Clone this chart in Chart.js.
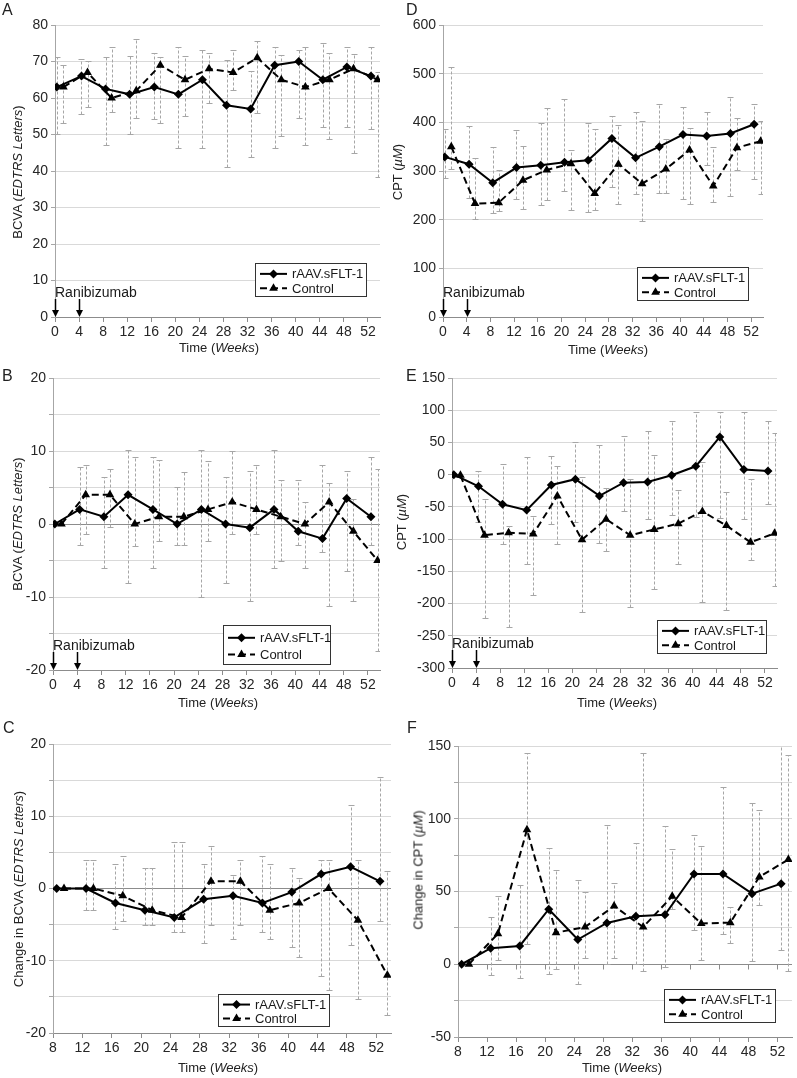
<!DOCTYPE html>
<html>
<head>
<meta charset="utf-8">
<script src="https://cdn.jsdelivr.net/npm/chart.js@4.4.0/dist/chart.umd.min.js"></script>
<style>
    body { margin: 0; background: #fff; }
    #page { position: relative; width: 797px; height: 1078px; font-family: "Liberation Sans", Arial, sans-serif; color: #222; overflow: hidden; }
    canvas { position: absolute; }
    .panel-label { position: absolute; font-size: 16px; }
    .x-title { position: absolute; font-size: 13px; white-space: nowrap; transform: translate(-50%, -50%); }
    .y-title { position: absolute; font-size: 13px; white-space: nowrap; transform: translate(-50%, -50%) rotate(-90deg); }
</style>
</head>
<body>
<div id="page">
    <div class="panel-label" style="left:2px;top:1px">A</div>
    <div class="panel-label" style="left:406px;top:1px">D</div>
    <div class="panel-label" style="left:2px;top:367px">B</div>
    <div class="panel-label" style="left:406px;top:367px">E</div>
    <div class="panel-label" style="left:3px;top:719px">C</div>
    <div class="panel-label" style="left:407px;top:719px">F</div>

    <div class="x-title" style="left:219px;top:347px">Time (<i>Weeks</i>)</div>
    <div class="x-title" style="left:608px;top:349px">Time (<i>Weeks</i>)</div>
    <div class="x-title" style="left:218px;top:702px">Time (<i>Weeks</i>)</div>
    <div class="x-title" style="left:617px;top:702px">Time (<i>Weeks</i>)</div>
    <div class="x-title" style="left:218px;top:1067px">Time (<i>Weeks</i>)</div>
    <div class="x-title" style="left:622px;top:1067px">Time (<i>Weeks</i>)</div>

    <div class="y-title" style="left:17px;top:172px">BCVA (<i>EDTRS Letters</i>)</div>
    <div class="y-title" style="left:397px;top:172px">CPT (<i>µM</i>)</div>
    <div class="y-title" style="left:17px;top:524px">BCVA (<i>EDTRS Letters</i>)</div>
    <div class="y-title" style="left:401px;top:522px">CPT (<i>µM</i>)</div>
    <div class="y-title" style="left:18px;top:889px">Change in BCVA (<i>EDTRS Letters</i>)</div>
    <div class="y-title" style="left:418px;top:870px">Change in CPT (<i>µM</i>)</div>
</div>
<script>
// visit times (weeks) as plotted; control is drawn one week to the right
const weeksT = [0.3, 4.4, 8.4, 12.4, 16.5, 20.5, 24.5, 28.5, 32.5, 36.5, 40.5, 44.5, 48.5, 52.5];
const weeksC = [1.4, 5.4, 9.4, 13.5, 17.5, 21.6, 25.6, 29.6, 33.6, 37.6, 41.6, 45.6, 49.6, 53.6];
const changeWeeksT = [8.5, 12.5, 16.5, 20.5, 24.5, 28.5, 32.5, 36.5, 40.5, 44.5, 48.5, 52.5];
const changeWeeksC = [9.5, 13.5, 17.5, 21.5, 25.5, 29.5, 33.5, 37.5, 41.5, 45.5, 49.5, 53.5];
const weekTicks = [0, 4, 8, 12, 16, 20, 24, 28, 32, 36, 40, 44, 48, 52];
const changeWeekTicks = [8, 12, 16, 20, 24, 28, 32, 36, 40, 44, 48, 52];
const injectionWeeks = [0, 4];
const seriesNames = ['rAAV.sFLT-1', 'Control'];

// A: BCVA
const aT = [63, 66, 62.5, 61, 63, 61, 65, 58, 57, 69, 70, 65, 68.5, 66];
const aTlo = [50.2, 55.7, 47.2, 50.2, 54.3, 46.3, 46.3, 41.1, 43.9, 46.3, 54.6, 52.1, 52.1, 51.4];
const aThi = [71.1, 70.6, 71.1, 71.6, 72.2, 74, 73.2, 70.5, 67.4, 74.1, 73.2, 75.2, 73.9, 74.1];
const aC = [63, 67, 60, 62, 69, 65, 68, 67, 71, 65, 63, 65, 68, 65];
const aClo = [53.2, 57.6, 56.2, 54.4, 53.2, 55, 58.7, 62.2, 55.8, 49.7, 47.2, 48.8, 44.8, 38.3];
const aChi = [69.1, 70.2, 74, 76.1, 71.1, 71.6, 72.2, 73.2, 75.7, 71.7, 74.1, 72.3, 72, 67];

// B: BCVA change from baseline
const bT = [0, 2, 1, 4, 2, 0, 2, 0, -0.5, 2, -1, -2, 3.5, 1];
const bTlo = [0, -2.9, -6, -8.1, -6, -2.9, -10, -8.1, -10.6, -6, -2.9, -3.9, -6.5, -2.9];
const bThi = [0, 7.8, 6.4, 10.2, 9.2, 5.1, 10.2, 6.4, 7.3, 10.2, 6, 8.1, 7.3, 9.2];
const bC = [0, 4, 4, 0, 1, 1, 2, 3, 2, 1, 0, 3, -1, -5];
const bClo = [0, -1.4, -0.4, -3, -2.3, -2.9, -2.3, -1.4, -1.4, -5, -6, -11.3, -10.6, -17.4];
const bChi = [0, 8.1, 7.6, 9.2, 8.8, 7.1, 8.6, 10, 8.1, 6, 3, 5.6, 3.4, 7.5];

// C: change in BCVA from week 8
const cT = [0, 0, -2, -3, -4, -1.5, -1, -2, -0.5, 2, 3, 1];
const cTlo = [0, -3, -5.6, -5, -6, -7.5, -7, -6, -8.1, -12.1, -7.8, -4.5];
const cThi = [0, 3.9, 3.4, 2.9, 6.4, 3.4, 1.9, 4.5, 2.9, 3.9, 11.5, 15.4];
const cC = [0, 0, -1, -3, -4, 1, 1, -3, -2, 0, -4.4, -12];
const cClo = [0, -3, -4.5, -5, -6, -5, -5, -7, -9.5, -14, -15.3, -17.5];
const cChi = [0, 3.9, 4.5, 2.9, 6.4, 5.9, 3.9, 3.4, 1.4, 4, 3.9, 2.4];

// D: CPT
const dT = [329, 314, 276, 307, 312, 318, 322, 367, 327, 350, 375, 372, 377, 396];
const dTlo = [285, 245, 213, 243, 230, 259, 215, 267, 252, 255, 242, 312, 248, 283];
const dThi = [387, 393, 350, 384, 398, 447, 399, 413, 422, 437, 431, 422, 453, 437];
const dC = [350, 233, 235, 281, 302, 315, 254, 314, 274, 304, 343, 269, 348, 361];
const dClo = [305, 201, 217, 221, 241, 219, 219, 233, 197, 255, 233, 237, 302, 252];
const dChi = [514, 326, 303, 352, 429, 344, 386, 395, 402, 365, 389, 350, 409, 403];

// E: CPT change from baseline
const eT = [0, -18, -46, -55, -16, -7, -33, -12.5, -11.5, -1, 13, 58.6, 8, 5.5];
const eTlo = [0, -73, -107, -138, -77, -73, -106, -57, -69, -63, -65, -67, -69, -46];
const eThi = [0, 6, 16, 28, 29, 51, 46, 60, 67, 83, 98, 98, 98, 83];
const eC = [-1, -94, -90, -92, -33, -101, -69, -94, -85, -76, -57, -79, -105, -91];
const eClo = [-1, -223, -236, -186, -108, -213, -118, -206, -177, -138, -198, -210, -132, -172];
const eChi = [-1, -38, -79, -64, 14, -4, -20, -6, 31, -24, 20, -27, -6, 64];

// F: change in CPT from week 8
const fT = [0, 11, 12.6, 37.8, 17, 28.4, 33, 34, 62, 62, 48.5, 55.4];
const fTlo = [0, -7.6, -9.2, -7, -13.3, 0, 0, -2, 23.8, 21, 2, 10];
const fThi = [0, 32.4, 54.2, 80, 58, 96, 83, 95, 88.6, 122, 110.8, 155];
const fC = [0, 21, 92.5, 21.7, 25.6, 40, 25.6, 46.7, 28, 28.6, 60, 72];
const fClo = [0, 3, 14.2, -3, 4.5, 4.5, -4.6, 37.8, 2.7, 14.9, 40.5, -4.8];
const fChi = [0, 47, 145.4, 65, 49.6, 56, 145, 79.5, 81, 39.4, 105.8, 143.6];

const Y_W = 45;
const X_H = 22;
const FONT = '"Liberation Sans", Arial, sans-serif';

const errorBars = {
    id: 'errorBars',
    beforeDatasetsDraw(chart) {
        const { ctx, chartArea, scales: { x, y } } = chart;
        ctx.save();
        ctx.beginPath();
        ctx.rect(chartArea.left, chartArea.top, chartArea.width, chartArea.height);
        ctx.clip();
        ctx.strokeStyle = '#a6a6a6';
        ctx.lineWidth = 1;
        chart.data.datasets.forEach(ds => {
            ds.data.forEach((pt, i) => {
                const lo = ds.errLo[i], hi = ds.errHi[i];
                if (lo === hi) return;
                const px = Math.round(x.getPixelForValue(pt.x)) + 0.5;
                const yl = Math.round(y.getPixelForValue(lo)) + 0.5;
                const yh = Math.round(y.getPixelForValue(hi)) + 0.5;
                ctx.setLineDash([3, 2]);
                ctx.beginPath();
                ctx.moveTo(px, yl);
                ctx.lineTo(px, yh);
                ctx.stroke();
                ctx.setLineDash([]);
                ctx.beginPath();
                ctx.moveTo(px - 3, yl); ctx.lineTo(px + 3, yl);
                ctx.moveTo(px - 3, yh); ctx.lineTo(px + 3, yh);
                ctx.stroke();
            });
        });
        ctx.restore();
    }
};

function drawMarker(ctx, shape, x, y) {
    ctx.beginPath();
    if (shape === 'triangle') {
        ctx.moveTo(x, y - 5);
        ctx.lineTo(x + 4.3, y + 2.5);
        ctx.lineTo(x - 4.3, y + 2.5);
    } else {
        ctx.moveTo(x, y - 4.5);
        ctx.lineTo(x + 4.5, y);
        ctx.lineTo(x, y + 4.5);
        ctx.lineTo(x - 4.5, y);
    }
    ctx.closePath();
    ctx.fill();
}

const boxLegend = {
    id: 'boxLegend',
    afterDraw(chart, args, opts) {
        if (!opts.rect) return;
        const { ctx } = chart;
        const [lx, ly, lw, lh] = opts.rect;
        ctx.save();
        ctx.fillStyle = '#fff';
        ctx.fillRect(lx, ly, lw, lh);
        ctx.strokeStyle = '#333';
        ctx.lineWidth = 1;
        ctx.strokeRect(lx + 0.5, ly + 0.5, lw - 1, lh - 1);
        ctx.font = '13px ' + FONT;
        ctx.textBaseline = 'middle';
        ctx.textAlign = 'left';
        chart.data.datasets.forEach((ds, i) => {
            const cy = ly + (i === 0 ? lh * 0.32 : lh * 0.74);
            ctx.strokeStyle = '#000';
            ctx.fillStyle = '#000';
            ctx.lineWidth = 2;
            ctx.setLineDash(ds.borderDash);
            ctx.beginPath();
            ctx.moveTo(lx + 5, cy);
            ctx.lineTo(lx + 32, cy);
            ctx.stroke();
            ctx.setLineDash([]);
            drawMarker(ctx, ds.pointStyle, lx + 18.5, cy);
            ctx.fillStyle = '#1a1a1a';
            ctx.fillText(ds.label, lx + 37, cy + 1);
        });
        ctx.restore();
    }
};

const injections = {
    id: 'injections',
    afterDraw(chart, args, opts) {
        if (!opts.weeks) return;
        const { ctx, chartArea, scales: { x } } = chart;
        const b = chartArea.bottom;
        ctx.save();
        ctx.strokeStyle = '#000';
        ctx.fillStyle = '#000';
        ctx.lineWidth = 1.5;
        opts.weeks.forEach(w => {
            const px = Math.round(x.getPixelForValue(w)) + 0.5;
            ctx.beginPath();
            ctx.moveTo(px, b - 18);
            ctx.lineTo(px, b - 6);
            ctx.stroke();
            ctx.beginPath();
            ctx.moveTo(px - 3.5, b - 7);
            ctx.lineTo(px + 3.5, b - 7);
            ctx.lineTo(px, b);
            ctx.closePath();
            ctx.fill();
        });
        ctx.font = '14px ' + FONT;
        ctx.textAlign = 'left';
        ctx.textBaseline = 'alphabetic';
        ctx.fillStyle = '#1a1a1a';
        ctx.fillText('Ranibizumab', x.getPixelForValue(opts.weeks[0]), b - 20);
        ctx.restore();
    }
};

// small tick marks along the zero line (panel F)
const zeroTicks = {
    id: 'zeroTicks',
    afterDatasetsDraw(chart, args, opts) {
        if (!opts.show) return;
        const { ctx, scales: { x, y } } = chart;
        const py = Math.round(y.getPixelForValue(0)) + 0.5;
        ctx.save();
        ctx.strokeStyle = '#8c8c8c';
        ctx.lineWidth = 1;
        x.ticks.forEach(t => {
            const px = Math.round(x.getPixelForValue(t.value)) + 0.5;
            ctx.beginPath();
            ctx.moveTo(px, py);
            ctx.lineTo(px, py + 5);
            ctx.stroke();
        });
        ctx.restore();
    }
};

function series(label, xs, vals, lo, hi, shape, dash) {
    return {
        label: label,
        data: xs.map((x, i) => ({ x: x, y: vals[i] })),
        errLo: lo,
        errHi: hi,
        borderColor: '#000',
        backgroundColor: '#000',
        borderWidth: 2,
        borderDash: dash,
        pointStyle: shape,
        pointRadius: shape === 'triangle' ? 5 : 4.5,
        pointBorderWidth: 0,
        tension: 0
    };
}

function makePanel(p) {
    const [bx, by, bw, bh] = p.box;
    const [L, T, R, B] = p.area;
    const cv = document.createElement('canvas');
    cv.width = bw;
    cv.height = bh;
    cv.style.left = bx + 'px';
    cv.style.top = by + 'px';
    document.getElementById('page').prepend(cv);

    new Chart(cv, {
        type: 'line',
        data: {
            datasets: [
                series(seriesNames[0], p.xT, p.t[0], p.t[1], p.t[2], 'rectRot', []),
                series(seriesNames[1], p.xC, p.c[0], p.c[1], p.c[2], 'triangle', [7, 4])
            ]
        },
        options: {
            responsive: false,
            animation: false,
            layout: {
                padding: { left: L - bx - Y_W, top: T - by, right: bx + bw - R, bottom: by + bh - B - X_H }
            },
            plugins: {
                legend: { display: false },
                tooltip: { enabled: false },
                boxLegend: { rect: [p.legend[0] - bx, p.legend[1] - by, p.legend[2], p.legend[3]] },
                injections: { weeks: p.inject ? injectionWeeks : null },
                zeroTicks: { show: !!p.zeroTicks }
            },
            scales: {
                x: {
                    type: 'linear',
                    min: p.xTicks[0],
                    max: 54,
                    afterBuildTicks: s => { s.ticks = p.xTicks.map(v => ({ value: v })); },
                    afterFit: s => { s.height = X_H; },
                    grid: { drawOnChartArea: false, tickLength: 5, tickColor: '#8c8c8c' },
                    border: { color: '#8c8c8c' },
                    ticks: { autoSkip: false, maxRotation: 0, padding: 2, color: '#262626', font: { family: FONT, size: 14 } }
                },
                y: {
                    min: p.yMin,
                    max: p.yMax,
                    afterFit: s => { s.width = Y_W; },
                    grid: {
                        color: c => (p.zeroLine && c.tick.value === 0) ? '#8c8c8c' : '#d9d9d9',
                        tickLength: 4,
                        tickColor: '#a6a6a6'
                    },
                    border: { color: '#a6a6a6' },
                    ticks: {
                        stepSize: p.yStep,
                        padding: 3,
                        color: '#262626',
                        font: { family: FONT, size: 14 },
                        callback: v => (v % p.yLabelEvery === 0 ? v : '')
                    }
                }
            }
        },
        plugins: [errorBars, boxLegend, injections, zeroTicks]
    });
}

const panels = [
    { box: [0, 0, 398, 340], area: [55, 25, 380, 317], yMin: 0, yMax: 80, yStep: 10, yLabelEvery: 10,
      xTicks: weekTicks, xT: weeksT, xC: weeksC, t: [aT, aTlo, aThi], c: [aC, aClo, aChi],
      legend: [255, 263, 112, 34], inject: true },
    { box: [398, 0, 399, 340], area: [443, 25, 763, 317], yMin: 0, yMax: 600, yStep: 100, yLabelEvery: 100,
      xTicks: weekTicks, xT: weeksT, xC: weeksC, t: [dT, dTlo, dThi], c: [dC, dClo, dChi],
      legend: [637, 267, 112, 34], inject: true },
    { box: [0, 340, 398, 360], area: [53, 378, 380, 670], yMin: -20, yMax: 20, yStep: 5, yLabelEvery: 10,
      xTicks: weekTicks, xT: weeksT, xC: weeksC, t: [bT, bTlo, bThi], c: [bC, bClo, bChi],
      legend: [223, 625, 108, 40], inject: true, zeroLine: true },
    { box: [398, 340, 399, 360], area: [452, 378, 777, 668], yMin: -300, yMax: 150, yStep: 50, yLabelEvery: 50,
      xTicks: weekTicks, xT: weeksT, xC: weeksC, t: [eT, eTlo, eThi], c: [eC, eClo, eChi],
      legend: [657, 620, 110, 34], inject: true },
    { box: [0, 700, 398, 378], area: [53, 744, 391, 1033], yMin: -20, yMax: 20, yStep: 5, yLabelEvery: 10,
      xTicks: changeWeekTicks, xT: changeWeeksT, xC: changeWeeksC, t: [cT, cTlo, cThi], c: [cC, cClo, cChi],
      legend: [218, 994, 112, 33], zeroLine: true },
    { box: [398, 700, 399, 378], area: [458, 746, 795, 1037], yMin: -50, yMax: 150, yStep: 25, yLabelEvery: 50,
      xTicks: changeWeekTicks, xT: changeWeeksT, xC: changeWeeksC, t: [fT, fTlo, fThi], c: [fC, fClo, fChi],
      legend: [664, 989, 112, 34], zeroLine: true, zeroTicks: true }
];

panels.forEach(makePanel);
</script>
</body>
</html>
